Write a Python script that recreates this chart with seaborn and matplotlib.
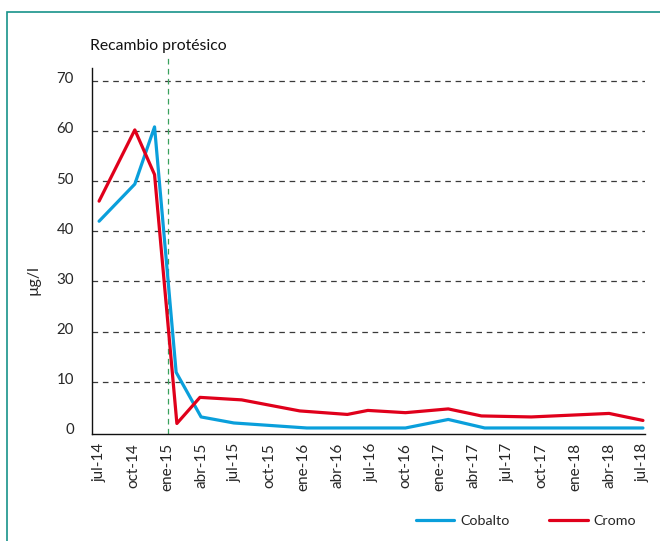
import matplotlib
matplotlib.use("Agg")
import matplotlib.pyplot as plt
import matplotlib.transforms as mtransforms
from matplotlib.patches import Rectangle
import seaborn as sns
import pandas as pd

# ---- data ----
cobalto_dates = ["2014-07-01", "2014-10-05", "2014-11-27", "2015-01-24", "2015-04-01",
                 "2015-06-28", "2016-01-10", "2016-10-01", "2017-01-24", "2017-05-02",
                 "2018-07-01"]
cobalto_vals = [42.0, 49.4, 60.8, 11.9, 3.0, 1.8, 0.8, 0.8, 2.5, 0.8, 0.8]

cromo_dates = ["2014-07-01", "2014-10-05", "2014-11-27", "2015-01-26", "2015-03-29",
               "2015-07-19", "2015-12-22", "2016-04-28", "2016-06-22", "2016-10-01",
               "2017-01-24", "2017-04-23", "2017-09-04", "2018-04-01", "2018-07-01"]
cromo_vals = [46.0, 60.2, 51.3, 1.7, 6.9, 6.4, 4.2, 3.5, 4.3, 3.85, 4.6, 3.2, 3.0, 3.7, 2.3]

tick_dates = ["2014-07-01", "2014-10-01", "2015-01-01", "2015-04-01", "2015-07-01",
              "2015-10-01", "2016-01-01", "2016-04-01", "2016-07-01", "2016-10-01",
              "2017-01-01", "2017-04-01", "2017-07-01", "2017-10-01", "2018-01-01",
              "2018-04-01", "2018-07-01"]
tick_labels = ["jul-14", "oct-14", "ene-15", "abr-15", "jul-15", "oct-15", "ene-16",
               "abr-16", "jul-16", "oct-16", "ene-17", "abr-17", "jul-17", "oct-17",
               "ene-18", "abr-18", "jul-18"]
y_ticks = [0, 10, 20, 30, 40, 50, 60, 70]
event_date = "2015-01-01"
event_label = "Recambio protésico"

df = pd.concat([
    pd.DataFrame({"fecha": pd.to_datetime(cobalto_dates), "valor": cobalto_vals, "serie": "Cobalto"}),
    pd.DataFrame({"fecha": pd.to_datetime(cromo_dates), "valor": cromo_vals, "serie": "Cromo"}),
], ignore_index=True)

sns.set_style("white")
plt.rcParams["font.family"] = ["Lato", "DejaVu Sans"]

fig = plt.figure(figsize=(6.6, 5.41), dpi=100)
ax = fig.add_axes([0.1394, 0.1987, 0.977 - 0.1394, 0.874 - 0.1987])

palette = {"Cobalto": "#0a9fdb", "Cromo": "#e0001b"}
sns.lineplot(data=df, x="fecha", y="valor", hue="serie", palette=palette,
             linewidth=2.3, ax=ax, sort=True, estimator=None)

# grid lines
for v in y_ticks[1:]:
    ax.axhline(v, color="#3a3a3a", linestyle=(0, (4.5, 3.8)), linewidth=0.9, zorder=0)

# event line
ax.axvline(pd.Timestamp(event_date), ymin=0, ymax=1.035, color="#3aa15e",
           linestyle=(0, (4.5, 3.5)), linewidth=0.9, clip_on=False, zorder=1)
fig.text(90 / 660, 1 - 46 / 541, event_label, ha="left", va="center", fontsize=11.3, color="#111111")

ax.set_xlim(pd.Timestamp("2014-06-12"), pd.Timestamp("2018-07-06"))
ax.set_ylim(-0.3, 72.5)
ax.set_xticks(pd.to_datetime(tick_dates))
ax.set_xticklabels(tick_labels, rotation=90, fontsize=11)
ax.set_yticks(y_ticks)
ax.set_yticklabels([str(v) for v in y_ticks], fontsize=10.8)
ax.tick_params(axis="both", length=0)
ax.tick_params(axis="y", pad=13)
ax.tick_params(axis="x", pad=7)
offset = mtransforms.ScaledTranslation(0, 3 / 100, fig.dpi_scale_trans)
for lbl in ax.get_yticklabels():
    lbl.set_transform(lbl.get_transform() + offset)

ax.set_xlabel("")
ax.set_ylabel("µg/l", fontsize=11.5)
ax.yaxis.set_label_coords(-0.094, 0.42)

for side in ["top", "right"]:
    ax.spines[side].set_visible(False)
for side in ["left", "bottom"]:
    ax.spines[side].set_color("#111111")
    ax.spines[side].set_linewidth(1.0)

handles, labels = ax.get_legend_handles_labels()
ax.get_legend().remove()
leg = fig.legend(handles, labels, loc="center", bbox_to_anchor=(526 / 660, 1 - 521 / 541),
                 ncol=2, frameon=False, fontsize=10.3, handlelength=2.7, columnspacing=2.8,
                 handletextpad=0.4)

# frame
fig.patches.append(Rectangle((7 / 660, -0.1), 1.2, (1 - 12 / 541) + 0.1,
                             transform=fig.transFigure, fill=False,
                             edgecolor="#17928a", linewidth=1.2))

fig.savefig("out.png", dpi=100)
